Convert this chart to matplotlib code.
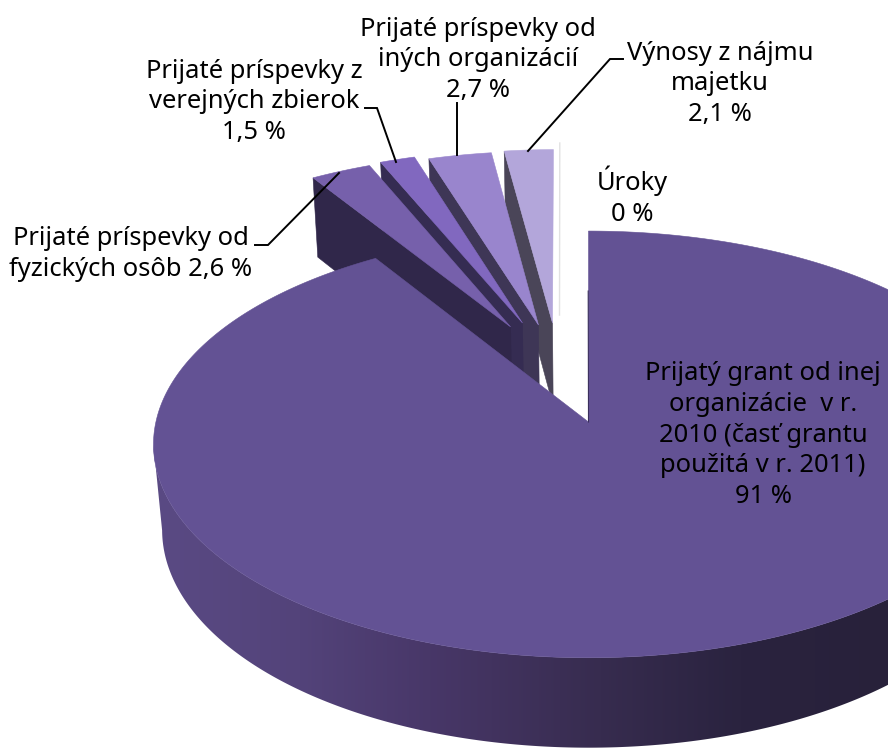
import numpy as np
import matplotlib
matplotlib.use("Agg")
import matplotlib.pyplot as plt
from matplotlib.colors import LinearSegmentedColormap
from matplotlib.patches import Polygon

# Data
names = ["grant", "fyzicke", "verejne", "ine", "najom", "uroky"]
shares = [91, 2.6, 1.5, 2.7, 2.1, 0]
labels = [
    "Prijatý grant od inej\norganizácie  v r.\n2010 (časť grantu\npoužitá v r. 2011)\n91 %",
    "Prijaté príspevky od\nfyzických osôb 2,6 %",
    "Prijaté príspevky z\nverejných zbierok\n1,5 %",
    "Prijaté príspevky od\niných organizácií\n2,7 %",
    "Výnosy z nájmu\nmajetku\n2,1 %",
    "Úroky\n0 %",
]

# Styles
top_colors = ["#635294", "#7660ab", "#8168bf", "#9985cd", "#b3a6da", "#e2e2e2"]
side_colors = [None, "#30274a", "#352c52", "#3e3656", "#4a4558", "#e2e2e2"]
offsets = [(0, 0), (-.189, -.473), (-.1605, -.4935), (-.1215, -.483), (-.0875, -.4935), (-.0708, -.5355)]
label_pos = [(763, 435), (131, 254), (254, 102), (478, 60), (720, 84), (632, 196)]
FONT_SIZE = 18.4
leaders = [
    ([255, 268, 339], [245, 245, 173]),
    ([365, 377, 396], [108, 108, 162]),
    ([457, 457], [103, 155]),
    ([623, 610, 528], [59, 59, 151]),
]
wall_stops = [(140, "#5b4b85"), (300, "#53437a"), (430, "#483768"), (600, "#372c4f"), (740, "#2a233f"), (888, "#28213a")]
X_LO, X_HI = wall_stops[0][0], wall_stops[-1][0]
wall_cmap = LinearSegmentedColormap.from_list(
    "wall", [((x - X_LO) / (X_HI - X_LO), c) for x, c in wall_stops], N=1024)

# Perspective model
CX, CY, A, B, D, K, M = 588.5, 422, 432.6, 211, 87, .105, .02


def project(x, y, z=0):
    w = 1 - K * y + M * z
    return CX + A * np.asarray(x) / w, CY + (B * np.asarray(y) + D * z) / w


def outer(t, off=(0, 0), z=0):
    r = np.radians(t)
    return project(off[0] + np.sin(r), off[1] - np.cos(r), z)


plt.rcParams["font.family"] = ["Noto Sans", "DejaVu Sans"]
fig = plt.figure(figsize=(8.88, 7.5), dpi=100)
ax = fig.add_axes([0, 0, 1, 1])

sweeps = 3.6 * np.asarray(shares, float)
starts = np.concatenate([[0], np.cumsum(sweeps)[:-1]])

# Exploded small slices: right neighbours lie behind left ones
for i in range(len(shares) - 1, 0, -1):
    off = offsets[i]
    a0, a1 = starts[i], starts[i] + sweeps[i]
    at = project(off[0], off[1])
    if sweeps[i] == 0:
        ot = outer(a0, off)
        ax.plot([at[0], ot[0]], [at[1], ot[1]], color=top_colors[i], lw=1.0, zorder=1)
        continue
    ab = project(off[0], off[1], 1)
    ot = outer(a0, off)
    ob = outer(a0, off, 1)
    ax.add_patch(Polygon([ot, at, ab, ob], closed=True, fc=side_colors[i], ec=side_colors[i], lw=.4, zorder=2))
    tt = np.linspace(a0, a1, 12)
    ox, oy = outer(tt, off)
    ax.add_patch(Polygon(np.column_stack([np.r_[at[0], ox], np.r_[at[1], oy]]), closed=True,
                         fc=top_colors[i], ec=top_colors[i], lw=.4, zorder=2))

# Main slice: outer wall with horizontal gradient, then top face
t_main = np.linspace(starts[0], starts[0] + sweeps[0], 721)
tx, ty = outer(t_main)
bx, by = outer(t_main, z=1)
i0 = np.searchsorted(t_main, 60.0)
i_top, i_bot = int(np.argmin(tx)), int(np.argmin(bx))
wall = Polygon(np.column_stack([np.r_[tx[i0:i_top + 1], bx[i0:i_bot + 1][::-1]],
                                np.r_[ty[i0:i_top + 1], by[i0:i_bot + 1][::-1]]]),
               closed=True, fc="none", ec="none", transform=ax.transData)
ax.add_patch(wall)
grad = np.linspace(0, 1, 1024)[None, :]
img = ax.imshow(grad, cmap=wall_cmap, extent=(X_LO, X_HI, 760, 400), aspect="auto", zorder=3,
                interpolation="bilinear")
img.set_clip_path(wall)
apex = project(0, 0)
ax.add_patch(Polygon(np.column_stack([np.r_[apex[0], tx], np.r_[apex[1], ty]]), closed=True,
                     fc=top_colors[0], ec=top_colors[0], lw=.4, zorder=4))
edge_top = outer(starts[0])
ax.plot([edge_top[0] - .3, apex[0]], [edge_top[1] + 60, apex[1]], color="#3a2f5c", lw=.8, zorder=5)

# Leader lines
for lx, ly in leaders:
    ax.plot(lx, ly, color="black", lw=1.4, zorder=5, solid_joinstyle="miter")

# Labels
for text, (x, y) in zip(labels, label_pos):
    ax.text(x, y, text, ha="center", va="center", fontsize=FONT_SIZE, color="black",
            linespacing=1.3, zorder=6)

ax.set_xlim(0, 888)
ax.set_ylim(750, 0)
ax.axis("off")
fig.savefig("out.png", dpi=100)
